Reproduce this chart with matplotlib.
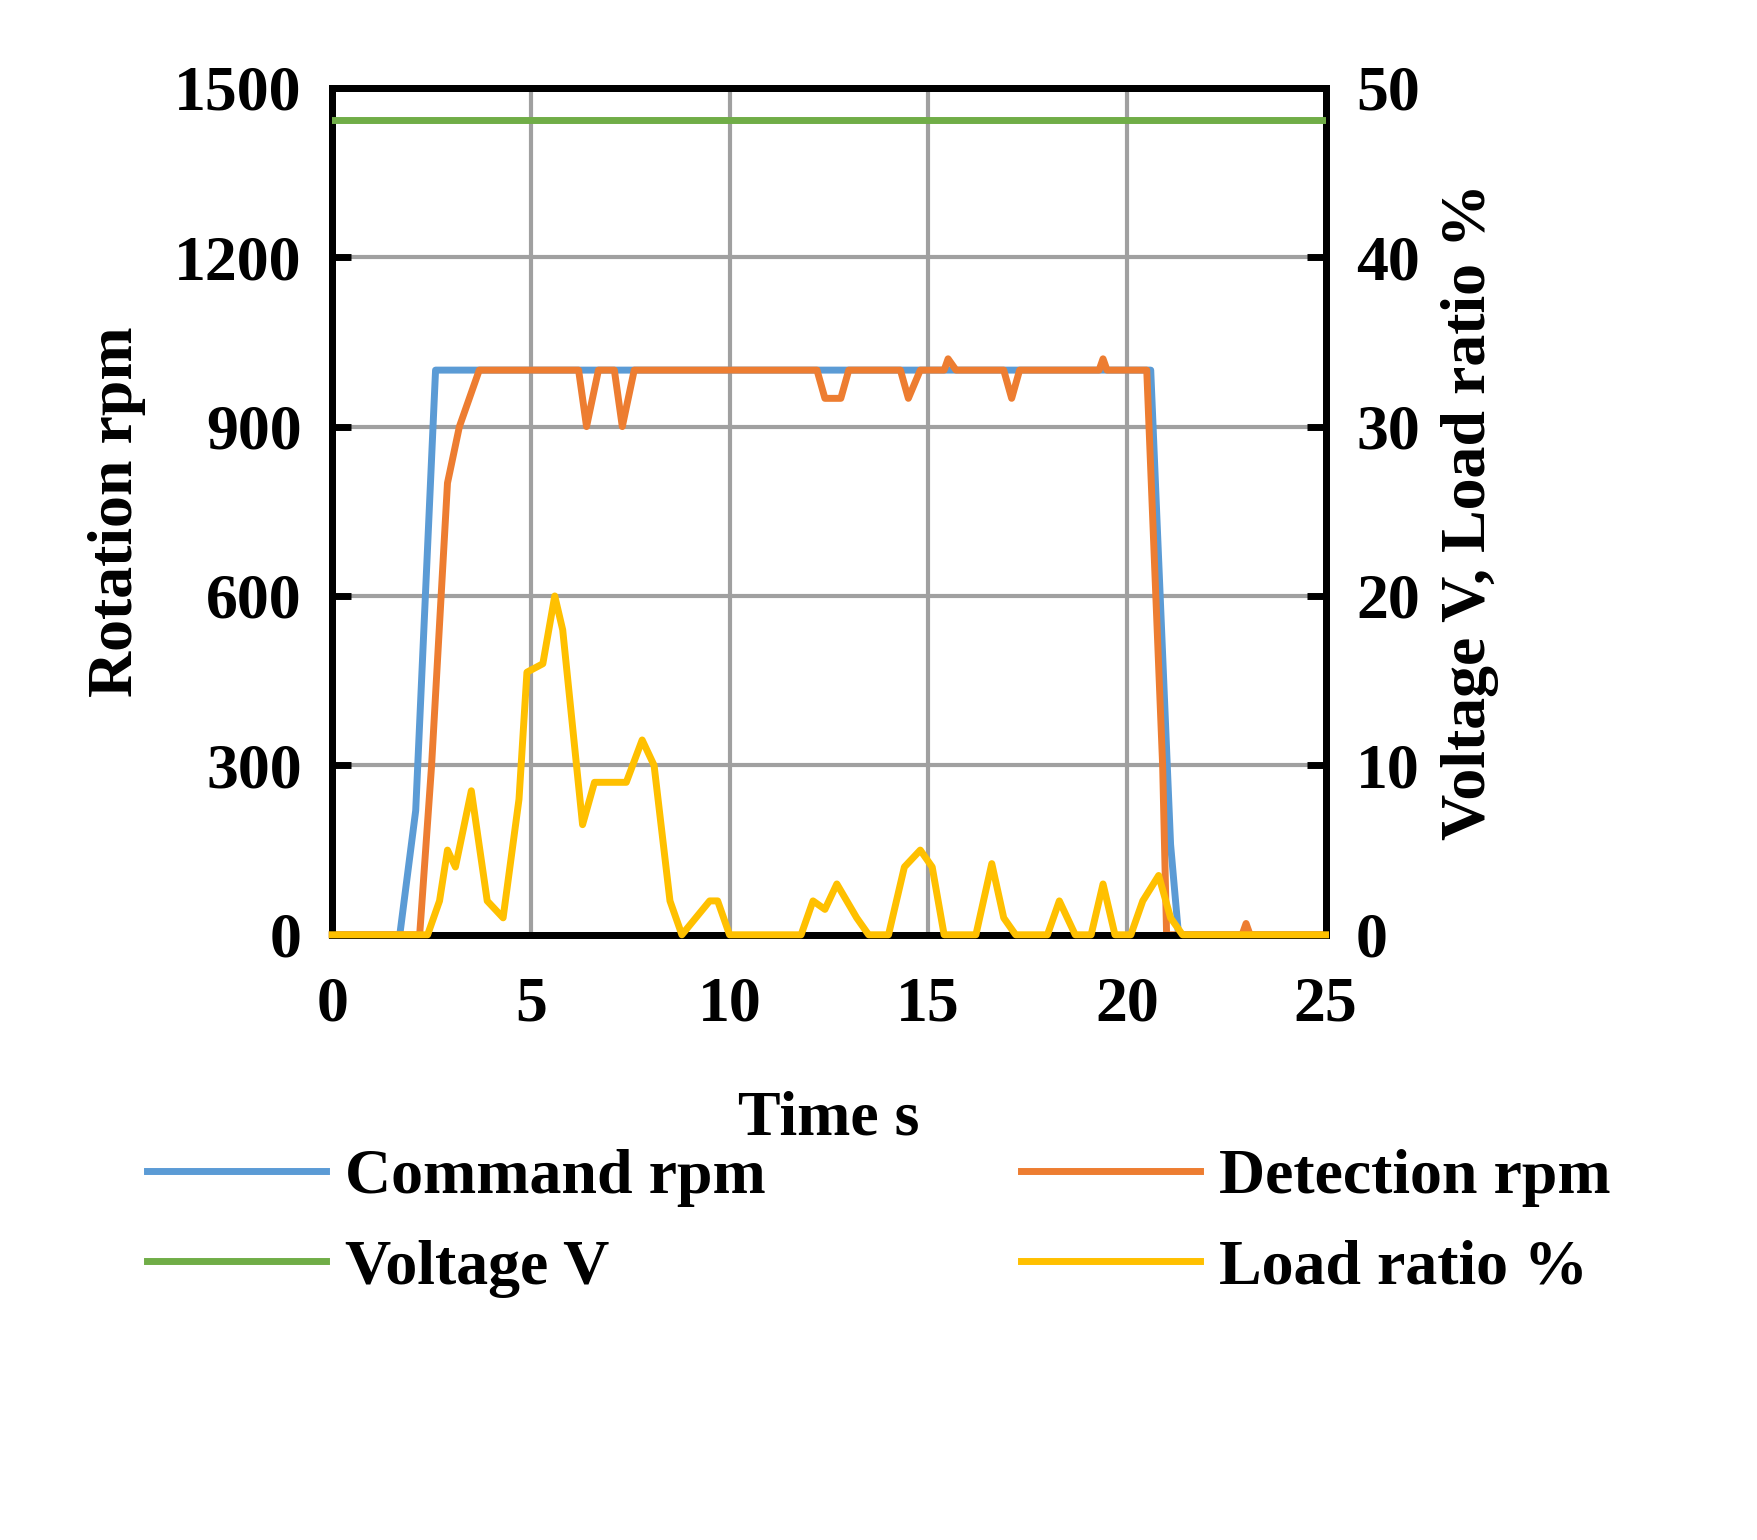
import matplotlib.pyplot as plt

cmd_t = [0, 1.7, 2.1, 2.6, 20.6, 21.1, 21.3, 25]
cmd_rpm = [0, 0, 220, 1000, 1000, 160, 0, 0]

det_t = [0, 2.2, 2.5, 2.9, 3.2, 3.7, 6.2, 6.4, 6.7, 7.1, 7.3, 7.6, 12.2, 12.4, 12.8, 13.0,
         14.3, 14.5, 14.8, 15.4, 15.5, 15.7, 16.9, 17.1, 17.3, 19.3, 19.4, 19.5, 20.5, 20.9,
         21.0, 22.9, 23.0, 23.1, 25]
det_rpm = [0, 0, 300, 800, 900, 1000, 1000, 900, 1000, 1000, 900, 1000, 1000, 950, 950, 1000,
           1000, 950, 1000, 1000, 1020, 1000, 1000, 950, 1000, 1000, 1020, 1000, 1000, 300,
           0, 0, 20, 0, 0]

volt_t = [0, 25]
volt_v = [48.1, 48.1]

load_t = [0, 2.4, 2.7, 2.9, 3.1, 3.5, 3.9, 4.3, 4.7, 4.9, 5.3, 5.6, 5.8, 6.3, 6.6, 7.4, 7.8,
          8.1, 8.5, 8.8, 9.5, 9.7, 10.0, 11.8, 12.1, 12.4, 12.7, 13.2, 13.5, 14.0, 14.4, 14.8,
          15.1, 15.4, 16.2, 16.6, 16.9, 17.2, 18.0, 18.3, 18.7, 19.1, 19.4, 19.7, 20.1, 20.4,
          20.8, 21.1, 21.4, 25]
load_pct = [0, 0, 2, 5, 4, 8.5, 2, 1, 8, 15.5, 16, 20, 18, 6.5, 9, 9, 11.5,
            10, 2, 0, 2, 2, 0, 0, 2, 1.5, 3, 1, 0, 0, 4, 5,
            4, 0, 0, 4.2, 1, 0, 0, 2, 0, 0, 3, 0, 0, 2,
            3.5, 1, 0, 0]

plt.rcParams['font.family'] = 'Liberation Serif'
plt.rcParams['font.weight'] = 'bold'
fs = 46
lw = 5

fig = plt.figure(figsize=(17.58, 15.4), dpi=100)
ax = fig.add_axes([0.189, 0.393, 0.565, 0.55])
ax2 = ax.twinx()

l1, = ax.plot(cmd_t, cmd_rpm, color='#5b9bd5', lw=lw, label='Command rpm', clip_on=False)
l2, = ax.plot(det_t, det_rpm, color='#ed7d31', lw=lw, label='Detection rpm', clip_on=False)
l3, = ax2.plot(volt_t, volt_v, color='#70ad47', lw=lw, label='Voltage V')
l4, = ax2.plot(load_t, load_pct, color='#ffc000', lw=lw, label='Load ratio %', clip_on=False)
for l in (l1, l2, l3, l4):
    l.set_zorder(5)

ax.set_xlim(0, 25)
ax.set_ylim(0, 1500)
ax2.set_ylim(0, 50)
ax.set_xticks(range(0, 26, 5))
ax.set_yticks(range(0, 1501, 300))
ax2.set_yticks(range(0, 51, 10))
ax.grid(True, color='#a0a0a0', lw=3)
ax.set_axisbelow(True)
for a in (ax, ax2):
    a.tick_params(labelsize=fs, width=5, length=14, direction='in', pad=22)
    for s in a.spines.values():
        s.set_linewidth(5)
ax.tick_params(axis='x', length=0, pad=30)

ax.set_xlabel('Time s', fontsize=fs, fontweight='bold', labelpad=40)
ax.set_ylabel('Rotation rpm', fontsize=fs, fontweight='bold', labelpad=20)
ax2.set_ylabel('Voltage V, Load ratio %', fontsize=fs, fontweight='bold', labelpad=15)

fig.legend(handles=[l1, l3, l2, l4], loc='lower center', bbox_to_anchor=(0.5, 0.12),
           ncol=2, frameon=False, fontsize=fs, handlelength=2.8, handletextpad=0.3,
           columnspacing=4, labelspacing=0.5)

fig.savefig('out.png', dpi=100)
